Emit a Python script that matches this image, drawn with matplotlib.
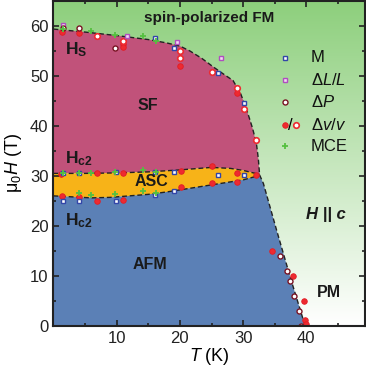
import numpy as np
import matplotlib.pyplot as plt

plt.rcParams['font.family'] = ['Liberation Sans', 'DejaVu Sans']
plt.rcParams['mathtext.fontset'] = 'custom'
plt.rcParams['mathtext.rm'] = 'Liberation Sans'
plt.rcParams['mathtext.it'] = 'Liberation Sans:italic'
plt.rcParams['mathtext.bf'] = 'Liberation Sans:bold'

# -------- phase boundaries (T in K, mu0H in T) --------
hs_T = [0, 5, 10, 15, 18, 20, 21.6, 23.5, 25.3, 27, 28.4, 29.6, 30.6, 31.5, 32.1, 32.4, 32.6]
hs_H = [59.4, 58.8, 58.1, 57.3, 56.6, 56.0, 55.0, 53.5, 51.8, 50.3, 49.1, 46.5, 43.1, 39.5, 36.5, 33.5, 30.3]

asc_up_T = [0, 5, 10, 15, 20, 25, 28, 30, 32.6]
asc_up_H = [30.5, 30.5, 30.6, 30.8, 31.2, 31.7, 31.5, 31.1, 30.3]

asc_lo_T = [0, 3, 6, 9, 12, 15, 18, 21, 24, 27, 30, 32.6]
asc_lo_H = [26.0, 25.8, 25.6, 25.7, 26.0, 26.3, 26.8, 27.4, 28.0, 28.6, 29.2, 30.1]

pm_T = [32.6, 33.2, 35.3, 37.5, 39.8]
pm_H = [30.2, 28.5, 19.1, 9.5, 0.0]

# -------- measured points --------
M_T = [16.0, 19.1, 26.1, 30.1, 1.5, 4.1, 9.9, 16.0, 19.1, 26.1, 30.1, 1.5, 4.1, 9.9, 16.0, 19.1]
M_H = [57.7, 55.6, 50.7, 44.5, 30.6, 30.6, 30.7, 30.8, 30.7, 30.1, 30.2, 25.0, 25.0, 25.0, 26.1, 27.0]

dL_T = [1.5, 11.6, 19.6, 26.5]
dL_H = [60.3, 58.1, 56.8, 53.6]

dP_T = [1.5, 4.1, 9.8, 35.8, 36.9, 37.4, 38.1, 38.8, 39.1]
dP_H = [59.6, 59.7, 55.7, 14.0, 11.0, 9.0, 6.0, 3.0, 0.0]

dv_fill_T = [1.3, 4.1, 11.0, 11.0, 20.0, 29.1,
             1.2, 6.9, 11.0, 20.1, 25.0, 29.1, 32.1,
             1.3, 4.1, 6.9, 11.0, 20.1, 25.0, 29.1,
             34.6, 37.9, 39.6, 39.8, 39.9]
dv_fill_H = [58.9, 58.7, 56.5, 55.8, 52.1, 46.6,
             30.3, 30.6, 30.5, 30.9, 31.9, 30.5, 30.1,
             26.0, 25.7, 25.0, 25.1, 27.8, 28.5, 28.8,
             15.0, 10.0, 5.0, 1.1, 0.3]

dv_open_T = [6.9, 11.0, 20.0, 20.0, 25.1, 29.1, 30.1, 32.1]
dv_open_H = [58.1, 57.1, 55.0, 53.6, 50.9, 47.5, 43.3, 37.1]

mce_T = [1.5, 6.0, 9.8, 14.2, 16.2, 1.5, 4.1, 6.0, 9.8, 14.2, 16.2, 4.1, 6.0, 9.8, 14.2, 16.2]
mce_H = [59.4, 59.1, 58.3, 58.1, 57.1, 30.6, 30.6, 30.6, 30.7, 31.1, 30.8, 26.5, 26.1, 26.3, 26.9, 26.6]

XMAX, YMAX = 49.2, 65

fig = plt.figure(figsize=(3.66, 3.67), dpi=100)
ax = fig.add_axes([0.146, 0.1125, 0.850, 0.8845])

# background gradient (green -> white)
top = np.array([141, 207, 124]) / 255
bot = np.array([255, 255, 255]) / 255
f = np.linspace(1, 0, 256)[:, None, None]
grad = f * top + (1 - f) * bot
ax.imshow(grad, extent=[0, XMAX, 0, YMAX], aspect='auto', zorder=0)

# phases
ax.fill(hs_T + asc_up_T[::-1], hs_H + asc_up_H[::-1], color='#C1527A', lw=0, zorder=1)
ax.fill(asc_up_T + asc_lo_T[::-1], asc_up_H + asc_lo_H[::-1], color='#F7B318', lw=0, zorder=1)
ax.fill([0] + asc_lo_T + pm_T[1:], [0] + asc_lo_H + pm_H[1:], color='#5B80B6', lw=0, zorder=1)

dash = dict(color='#222222', lw=1.0, ls=(0, (3.5, 2)), zorder=2)
for tt, hh in [(hs_T, hs_H), (asc_up_T, asc_up_H), (asc_lo_T, asc_lo_H), (pm_T, pm_H)]:
    ax.plot(tt, hh, **dash)

# markers
st_M = dict(ls='none', marker='s', ms=3.5, mew=1.0, mec='#3346A8', mfc='white', zorder=4)
st_dL = dict(ls='none', marker='s', ms=3.5, mew=1.0, mec='#B04EC0', mfc='#F3DDF3', zorder=4)
st_dP = dict(ls='none', marker='o', ms=3.6, mew=1.0, mec='#7A1424', mfc='white', zorder=4)
st_vf = dict(ls='none', marker='o', ms=4.0, mew=0.6, mec='#E21C24', mfc='#EE2A30', zorder=3)
st_vo = dict(ls='none', marker='o', ms=4.0, mew=1.2, mec='#EE2A30', mfc='white', zorder=3)
st_mce = dict(ls='none', marker='+', ms=5, mew=1.3, color='#55C040', zorder=5)

ax.plot(dv_fill_T, dv_fill_H, **st_vf)
ax.plot(dv_open_T, dv_open_H, **st_vo)
ax.plot(M_T, M_H, **st_M)
ax.plot(dL_T, dL_H, **st_dL)
ax.plot(dP_T, dP_H, **st_dP)
ax.plot(mce_T, mce_H, **st_mce)

# legend drawn by hand
tr = ax.transAxes
lx, tx = 0.745, 0.827
rows = [0.826, 0.757, 0.689, 0.618, 0.553]
ax.plot(lx, rows[0], transform=tr, **st_M)
ax.plot(lx, rows[1], transform=tr, **st_dL)
ax.plot(lx, rows[2], transform=tr, **st_dP)
ax.plot(lx, rows[3], transform=tr, **st_vf)
ax.text(0.761, rows[3], '/', transform=tr, fontsize=12, ha='center', va='center')
ax.plot(0.78, rows[3], transform=tr, **st_vo)
ax.plot(lx, rows[4], transform=tr, **st_mce)
labels = ['M', r'$\Delta L/L$', r'$\Delta P$', r'$\Delta v/v$', 'MCE']
for y, s in zip(rows, labels):
    ax.text(tx, y, s, transform=tr, fontsize=12, va='center', ha='left', color='#111111')

# phase labels
bold = dict(fontweight='bold', color='#1a1a1a', zorder=6)
ax.text(24.6, 61.6, 'spin-polarized FM', fontsize=11, ha='center', va='center', **bold)
ax.text(1.8, 54.4, r'$\mathbf{H_S}$', fontsize=12.5, ha='left', va='baseline', **bold)
ax.text(1.8, 32.5, r'$\mathbf{H_{c2}}$', fontsize=12.5, ha='left', va='baseline', **bold)
ax.text(1.8, 20.1, r'$\mathbf{H_{c2}}$', fontsize=12.5, ha='left', va='baseline', **bold)
ax.text(15.0, 44.1, 'SF', fontsize=11.5, ha='center', va='center', **bold)
ax.text(15.5, 28.9, 'ASC', fontsize=11.5, ha='center', va='center', **bold)
ax.text(15.2, 12.2, 'AFM', fontsize=11.5, ha='center', va='center', **bold)
ax.text(43.1, 22.2, 'H || c', fontsize=12, ha='center', va='center', style='italic', **bold)
ax.text(43.5, 6.6, 'PM', fontsize=11.5, ha='center', va='center', **bold)

# axes
ax.set_xlim(0, XMAX)
ax.set_ylim(0, YMAX)
ax.set_xticks([10, 20, 30, 40])
ax.set_xticks([5, 15, 25, 35, 45], minor=True)
ax.set_yticks([0, 10, 20, 30, 40, 50, 60])
ax.set_yticks([5, 15, 25, 35, 45, 55], minor=True)
ax.tick_params(which='both', direction='in', top=True, right=True, width=1.2, colors='#222222',
               labelsize=12, labelcolor='#222222')
ax.tick_params(which='major', length=4)
ax.tick_params(which='minor', length=2.5)
for sp in ax.spines.values():
    sp.set_linewidth(1.5)
    sp.set_color('#222222')
    sp.set_zorder(7)

ax.set_xlabel(r'$T$ (K)', fontsize=13, labelpad=0)
ax.set_ylabel(r'$\mathrm{\mu}_0H$ (T)', fontsize=13, labelpad=4)

fig.savefig('out.png', dpi=100)
